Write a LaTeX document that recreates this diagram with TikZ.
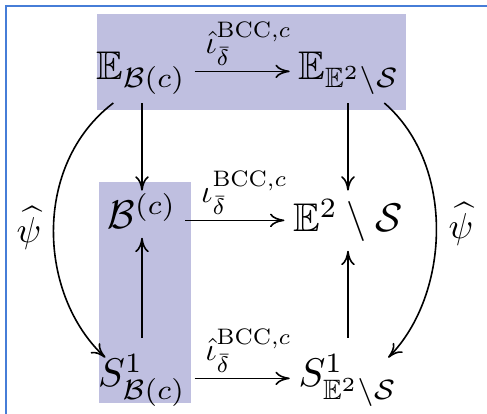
\documentclass[tikz,border=0pt]{standalone}
\usepackage{amsmath,amssymb}
\usetikzlibrary{arrows.meta}

\definecolor{shade}{RGB}{191,191,224}
\definecolor{framecol}{RGB}{70,125,215}

\begin{document}
\begin{tikzpicture}[
    x=0.25pt, y=-0.25pt,
    >={To[length=3.6pt,width=3.4pt]},
    obj/.style={anchor=base, inner sep=2pt},
    maplabel/.style={scale=0.8, transform shape, inner sep=1.5pt, xshift=2pt},
    region/.style={fill=shade},
]
\useasboundingbox (0,0) rectangle (487,414);

% Frame
\draw[framecol, line width=0.45pt] (6,414) -- (6,6) -- (487,6);

% Shaded regions
\fill[region] (97,14) rectangle (406,110);
\fill[region] (99,182) rectangle (191,403);

% Objects
\node[obj] (EB) at (141,80) {$\mathbb{E}_{\mathcal{B}(c)}$};
\node[obj] (EE) at (349,80) {$\mathbb{E}_{\mathbb{E}^2\setminus\mathcal{S}}$};
\node[obj] (B)  at (142,229) {$\mathcal{B}^{(c)}$};
\node[obj] (ES) at (348,232) {$\mathbb{E}^2\setminus\mathcal{S}$};
\node[obj] (SB) at (142,387) {$S^1_{\mathcal{B}(c)}$};
\node[obj] (SE) at (348,387) {$S^1_{\mathbb{E}^2\setminus\mathcal{S}}$};

% Horizontal maps
\draw[->] (EB.mid east) -- (EE.mid west)
    node[maplabel, midway, above] {$\hat{\iota}^{\mathrm{BCC},c}_{\bar{\delta}}$};
\draw[->] (B.mid east) -- (ES.mid west |- B.mid east)
    node[maplabel, midway, above, xshift=1pt] {$\iota^{\mathrm{BCC},c}_{\bar{\delta}}$};
\draw[->] (SB.mid east) -- (SE.mid west)
    node[maplabel, midway, above] {$\hat{\iota}^{\mathrm{BCC},c}_{\bar{\delta}}$};

% Vertical maps
\draw[->, shorten >=-1.5pt] (EB.south -| B.north) -- (B.north);
\draw[->, shorten <=2pt] (SB.north -| B.south) -- (B.south);
\draw[->] (EE.south -| ES.north) -- (ES.north);
\draw[->, shorten <=2pt] (SE.north -| ES.south) -- (ES.south);

% Curved maps
\draw[->] ([xshift=6.5pt]EB.south west) .. controls (32,165) and (38,295) .. ([xshift=4pt,yshift=-3pt]SB.north west);
\draw[->] ([xshift=-6pt]EE.south east) .. controls (456,165) and (450,295) .. ([xshift=-4.5pt,yshift=-3pt]SE.north east);
\node[scale=0.9] (psiL) at (29,228) {$\widehat{\psi}$};
\node[scale=0.9] (psiR) at (461,224) {$\widehat{\psi}$};

\end{tikzpicture}
\end{document}
